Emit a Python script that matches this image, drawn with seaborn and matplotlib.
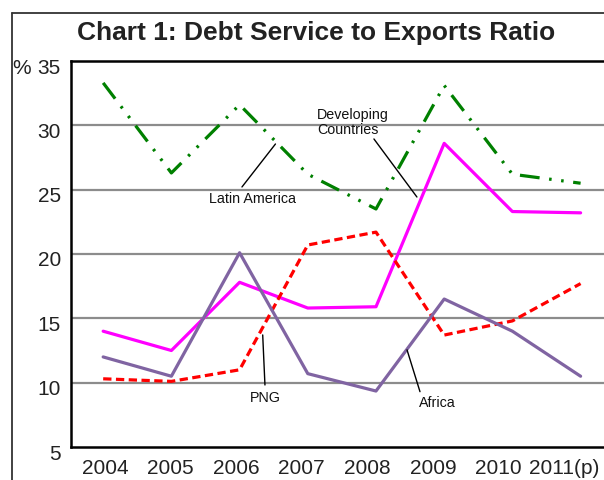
import matplotlib
matplotlib.use("Agg")
import matplotlib.pyplot as plt
from matplotlib.lines import Line2D
from matplotlib.transforms import ScaledTranslation
import numpy as np
import pandas as pd
import seaborn as sns

# ---- data -------------------------------------------------------------
years = ["2004", "2005", "2006", "2007", "2008", "2009", "2010", "2011(p)"]
latin_america = [33.3, 26.3, 31.6, 26.2, 23.5, 33.1, 26.2, 25.5]
developing = [14.0, 12.5, 17.8, 15.8, 15.9, 28.6, 23.3, 23.2]
png = [10.3, 10.1, 11.0, 20.7, 21.7, 13.7, 14.8, 17.7]
africa = [12.0, 10.5, 20.1, 10.7, 9.35, 16.5, 14.0, 10.5]

series_names = ["Latin America", "Developing Countries", "PNG", "Africa"]
y_ticks = [5, 10, 15, 20, 25, 30, 35]

df = pd.DataFrame({
    "year": years * 4,
    "series": np.repeat(series_names, len(years)),
    "value": latin_america + developing + png + africa,
})

palette = {
    "Latin America": "#008000",
    "Developing Countries": "#ff00ff",
    "PNG": "#ff0000",
    "Africa": "#8064a2",
}
dashes = {
    "Latin America": (6.2, 3.0, 0.8, 3.0, 0.8, 3.0),
    "Developing Countries": "",
    "PNG": (2.6, 1.4),
    "Africa": "",
}

# ---- figure -----------------------------------------------------------
sns.set_theme(style="white")
plt.rcParams["font.family"] = ["Liberation Sans", "DejaVu Sans"]

W, H = 604, 480
fig = plt.figure(figsize=(W / 100, H / 100), dpi=100)
ax = fig.add_axes([70.5 / W, 1 - 447 / H, 1 - 70.5 / W + 0.01, (447 - 61) / H])

# horizontal grid lines
for v in y_ticks[1:-1]:
    ax.axhline(v, color="#8c8c8c", lw=1.6, zorder=1)

sns.lineplot(
    data=df, x="year", y="value", hue="series", style="series",
    palette=palette, dashes=dashes, lw=2.3, sort=False,
    legend=False, ax=ax, zorder=3,
)

ax.set_xlim(-0.479, 7.343 + 0.01 * W / 68.2)
ax.set_ylim(5, 35)
ax.set_yticks(y_ticks)
# year labels sit on a slightly tighter spacing than the plotted points
ax.set_xticks(0.026 + 0.962 * np.arange(len(years)))
ax.set_xticklabels(years)
ax.set_xlabel("")
ax.set_ylabel("")
ax.grid(False)

for side in ["left", "top", "bottom"]:
    ax.spines[side].set_visible(True)
    ax.spines[side].set_color("#000000")
    ax.spines[side].set_linewidth(1.8)
ax.spines["right"].set_visible(False)

ax.tick_params(axis="both", length=0, labelsize=15, colors="#222222")
ax.tick_params(axis="y", pad=7)
ax.tick_params(axis="x", pad=9)
for lab in ax.get_yticklabels():
    lab.set_transform(lab.get_transform() + ScaledTranslation(0, -5 / 100, fig.dpi_scale_trans))

# unit marker next to the top y tick
fig.text(12 / W, 1 - 69 / H, "%", fontsize=15, color="#222222", ha="left", va="center")

# title
fig.text(316.5 / W, 1 - 33 / H, "Chart 1: Debt Service to Exports Ratio",
         fontsize=19, fontweight="bold", color="#222222", ha="center", va="center")

# outer frame
frame_kw = dict(color="#333333", lw=1.3, transform=fig.transFigure)
fig.add_artist(Line2D([12 / W, 12 / W], [1 - 13 / H, 0], **frame_kw))
fig.add_artist(Line2D([12 / W, 1], [1 - 13 / H, 1 - 13 / H], **frame_kw))

# series labels with leader lines
ann_kw = dict(fontsize=10.3, color="#111111",
              arrowprops=dict(arrowstyle="-", color="#000000", lw=1.0,
                              shrinkA=0, shrinkB=0))
ax.annotate("", xy=(4.60, 24.43), xytext=(3.97, 28.94), **ann_kw)
ax.text(3.135, 31.35, "Developing\nCountries", fontsize=10.3, color="#111111",
        ha="left", va="top", linespacing=1.05)
ax.annotate("", xy=(2.526, 28.55), xytext=(2.035, 25.21), **ann_kw)
ax.text(2.196, 24.28, "Latin America", fontsize=10.3, color="#111111", ha="center", va="center")
ax.annotate("", xy=(2.339, 13.71), xytext=(2.372, 9.82), **ann_kw)
ax.text(2.381, 8.82, "PNG", fontsize=10.3, color="#111111", ha="center", va="center")
ax.annotate("", xy=(4.455, 12.55), xytext=(4.645, 9.30), **ann_kw)
ax.text(4.905, 8.43, "Africa", fontsize=10.3, color="#111111", ha="center", va="center")

fig.savefig("out.png", dpi=100)
